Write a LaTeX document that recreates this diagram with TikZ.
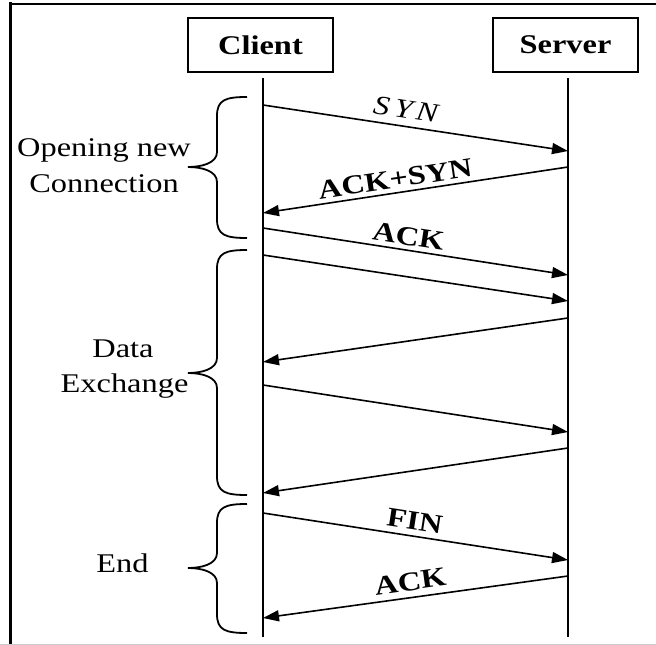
\documentclass[tikz,border=0pt]{standalone}
\usepackage{fontspec}
\setmainfont{Liberation Serif}[FakeStretch=1.2]
\usetikzlibrary{arrows.meta}
\tikzset{
  box/.style={draw, line width=2pt, minimum width=145pt, minimum height=54pt, inner sep=0pt, font=\fontsize{27}{32}\selectfont\bfseries},
  life/.style={line width=2pt},
  msg/.style={line width=1.6pt, -{Triangle[length=16pt,width=11pt]}},
  lbl/.style={sloped, above, inner sep=4pt, font=\fontsize{27}{32}\selectfont\bfseries},
  side/.style={font=\fontsize{27}{37}\selectfont, inner sep=0pt, anchor=base},
  brc/.style={line width=1.8pt},
}
\begin{document}
\begin{tikzpicture}[x=1pt, y=-1pt]
\useasboundingbox (0,0) rectangle (656,645);
% frame
\draw[line width=3pt] (10.5,2) -- (10.5,645);
\draw[line width=2pt] (9,3.5) -- (656,3.5);
\draw[line width=1pt, black!20] (0,644.5) -- (656,644.5);
% boxes
\node[box] (client) at (260.5,45) {Client};
\node[box] (server) at (565.5,45) {Server};
% lifelines
\coordinate (ctop) at (263,78); \coordinate (cbot) at (263,637);
\coordinate (stop) at (568,78); \coordinate (sbot) at (568,637);
\draw[life] (ctop) -- (cbot);
\draw[life] (stop) -- (sbot);
% message endpoints
\coordinate (c1) at (263,105); \coordinate (s1) at (568,151);
\coordinate (s2) at (568,167); \coordinate (c2) at (263,213);
\coordinate (c3) at (263,228); \coordinate (s3) at (568,275);
\coordinate (c4) at (263,255); \coordinate (s4) at (568,301);
\coordinate (s5) at (568,318); \coordinate (c5) at (263,362);
\coordinate (c6) at (263,385); \coordinate (s6) at (568,432);
\coordinate (s7) at (568,448); \coordinate (c7) at (263,493);
\coordinate (c8) at (263,513); \coordinate (s8) at (568,560);
\coordinate (s9) at (568,576); \coordinate (c9) at (263,618);
\draw[msg] (c1) -- node[lbl, pos=0.46, inner sep=7pt, font=\fontsize{27}{32}\selectfont\itshape] (lsyn) {S\hspace{5pt}Y\hspace{4pt}N} (s1);
\draw[msg] (s2) -- node[lbl, pos=0.56] (lacksyn) {ACK+SYN} (c2);
\draw[msg] (c3) -- node[lbl, pos=0.47] (lack) {ACK} (s3);
\draw[msg] (c4) -- (s4);
\draw[msg] (s5) -- (c5);
\draw[msg] (c6) -- (s6);
\draw[msg] (s7) -- (c7);
\draw[msg] (c8) -- node[lbl, pos=0.49, inner sep=6pt] (lfin) {FIN} (s8);
\draw[msg] (s9) -- node[lbl, pos=0.51, inner sep=6pt] (lack2) {ACK} (c9);
% braces
\draw[brc] (247,97) .. controls (225,97) and (217,100) .. (217,116) -- (217,152)
  .. controls (217,163) and (202,167) .. (188,167)
  .. controls (202,167) and (217,171) .. (217,182) -- (217,219)
  .. controls (217,235) and (225,238) .. (247,238);
\draw[brc] (247,250) .. controls (225,250) and (217,253) .. (217,269) -- (217,358)
  .. controls (217,369) and (202,373) .. (188,373)
  .. controls (202,373) and (217,377) .. (217,388) -- (217,476)
  .. controls (217,492) and (225,495) .. (247,495);
\draw[brc] (247,504) .. controls (225,504) and (217,507) .. (217,523) -- (217,553)
  .. controls (217,564) and (202,568) .. (188,568)
  .. controls (202,568) and (217,572) .. (217,583) -- (217,614)
  .. controls (217,630) and (225,633) .. (247,633);
% side texts
\node[side] (open1) at (104,156) {Opening new};
\node[side] (open2) at (104,192) {Connection};
\node[side] (data) at (123,357) {Data};
\node[side] (exch) at (124.5,392) {Exchange};
\node[side] (endt) at (122.5,572) {End};
\end{tikzpicture}
\end{document}
